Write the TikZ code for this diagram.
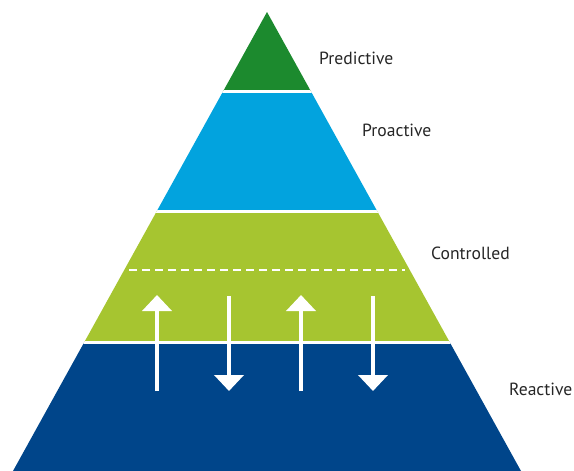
\documentclass[tikz,border=0pt]{standalone}
\usepackage{fontspec}
\setmainfont{PT Sans}
\usetikzlibrary{arrows.meta}
\definecolor{predictivegreen}{RGB}{28,138,46}
\definecolor{proactiveblue}{RGB}{2,163,222}
\definecolor{controlledlime}{RGB}{166,197,48}
\definecolor{reactivenavy}{RGB}{0,69,138}
\tikzset{
    gap/.style={white, line width=3pt},
    level/.style={anchor=west, inner sep=0pt, text=black!85, font=\fontsize{17.6}{20}\selectfont},
    flow/.style={white, line width=4pt, -{Triangle[width=29pt,length=16pt]}}
}
\begin{document}
\begin{tikzpicture}[x=1pt,y=-1pt]
        \useasboundingbox (0,0) rectangle (574,471);
        \coordinate (apex) at (267,12);
        \coordinate (baseL) at (13,471);
        \coordinate (baseR) at (521,471);
        \begin{scope}
            \clip (apex) -- (baseR) -- (baseL) -- cycle;
            \fill[predictivegreen] (0,0) rectangle (574,91.5);
            \fill[proactiveblue] (0,91.5) rectangle (574,211);
            \fill[controlledlime] (0,211) rectangle (574,342);
            \fill[reactivenavy] (0,342) rectangle (574,471);
            \draw[gap] (0,91.5) -- (574,91.5);
            \draw[gap] (0,211) -- (574,211);
            \draw[gap] (0,342) -- (574,342);
        \end{scope}
        \draw[white, line width=2.5pt, dash pattern=on 8pt off 5pt] (129,270) -- (405,270);
        \coordinate (up1s) at (157,391);
        \coordinate (up1e) at (157,295);
        \coordinate (dn1s) at (229,296);
        \coordinate (dn1e) at (229,391);
        \coordinate (up2s) at (301,391);
        \coordinate (up2e) at (301,295);
        \coordinate (dn2s) at (373,296);
        \coordinate (dn2e) at (373,391);
        \draw[flow] (up1s) -- (up1e);
        \draw[flow] (dn1s) -- (dn1e);
        \draw[flow] (up2s) -- (up2e);
        \draw[flow] (dn2s) -- (dn2e);
        \node[level] (P) at (319,58) {Predictive};
        \node[level] (Pr) at (362,130) {Proactive};
        \node[level] (C) at (431,253) {Controlled};
        \node[level] (R) at (509,389) {Reactive};
    \end{tikzpicture}
\end{document}
